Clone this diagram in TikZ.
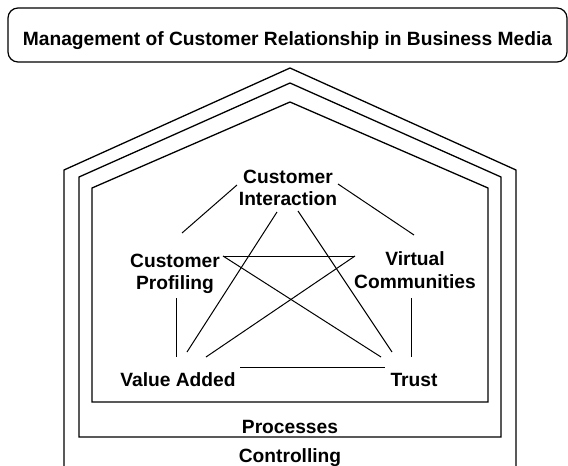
\documentclass[tikz,border=0pt]{standalone}
\usepackage{fontspec}
\setmainfont{Liberation Sans}
\usepackage{tikz}

\begin{document}
\begin{tikzpicture}[x=1pt, y=-1pt, line width=1pt,
    every node/.style={font=\bfseries\fontsize{19.2}{22.5}\selectfont, align=center, inner sep=0pt},
    house/.style={line width=1.3pt, line join=miter},
    title/.style={draw, line width=1.2pt, rounded corners=10pt, minimum width=559pt,
      minimum height=54pt, text height=22pt, text depth=2pt}]
        \useasboundingbox (0,0) rectangle (568,466);

        \node[title] (M) at (287.5,35) {Management of Customer Relationship in Business Media};

        % the house
        \draw[house] (64,466) -- (64,170) -- (290,68) -- (516,170) -- (516,466);
        \draw[house] (79,437) -- (79,177) -- (290,83) -- (501,177) -- (501,437) -- cycle;
        \draw[house] (92,402) -- (92,188) -- (290,102) -- (488,188) -- (488,402) -- cycle;

        \node (P) at (290,427) {Processes};
        \node (C) at (290,458) {Controlling};

        \node (CI) at (288,188) {Customer\\Interaction};
        \node (CP) at (175,274) {Customer\\Profiling};
        \node (VC) at (415,270) {Virtual\\Communities};
        \node (VA) at (178,380) {Value Added};
        \node (T)  at (414,380) {Trust};

        \draw ([shift={(-51,-3)}]CI.center) -- ([shift={(7,-41)}]CP.center);
        \draw ([shift={(50,-4)}]CI.center) -- ([shift={(-1,-35)}]VC.center);
        \draw ([shift={(-11,24)}]CI.center) -- ([shift={(9,-28)}]VA.center);
        \draw ([shift={(10,23)}]CI.center) -- ([shift={(-22,-28)}]T.center);

        \draw ([shift={(48,-18)}]CP.center) -- ([shift={(-60,-14)}]VC.center);
        \draw ([shift={(48,-18)}]CP.center) -- ([shift={(-33,-23)}]T.center);
        \draw ([shift={(-60,-14)}]VC.center) -- ([shift={(28,-23)}]VA.center);

        \draw ([shift={(1,24)}]CP.center) -- ([shift={(-2,-23)}]VA.center);
        \draw ([shift={(-4,28)}]VC.center) -- ([shift={(-3,-23)}]T.center);
        \draw ([shift={(62,-13)}]VA.center) -- ([shift={(-29,-13)}]T.center);
      \end{tikzpicture}
\end{document}
